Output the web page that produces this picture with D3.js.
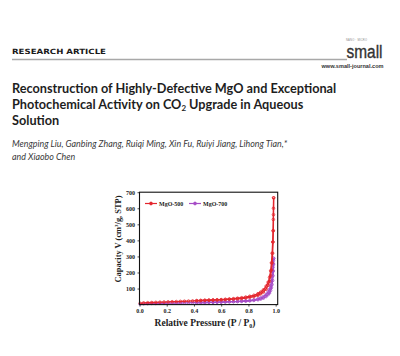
<!DOCTYPE html>
<html><head><meta charset="utf-8">
<script src="https://cdn.jsdelivr.net/npm/d3@7"></script>
<style>html,body{margin:0;padding:0;background:#fff;}svg{display:block;}</style>
</head><body>
<script>
// ---- data ----
const headerLabel = "RESEARCH ARTICLE";
const titleLines = ["Reconstruction of Highly-Defective MgO and Exceptional", "Photochemical Activity on CO|2| Upgrade in Aqueous", "Solution"];
const authorLines = ["Mengping Liu, Ganbing Zhang, Ruiqi Ming, Xin Fu, Ruiyi Jiang, Lihong Tian,*", "and Xiaobo Chen"];
const seriesNames = ["MgO-500", "MgO-700"];
const xTicks = [0.0, 0.2, 0.4, 0.6, 0.8, 1.0];
const yTicks = [100, 200, 300, 400, 500, 600, 700];

const pAds = [0.005,0.03,0.06,0.09,0.12,0.15,0.18,0.21,0.24,0.27,0.30,0.33,0.36,0.39,0.42,0.45,0.48,0.51,0.54,0.57,0.60,0.63,0.66,0.69,0.72,0.75,0.78,0.81,0.84,0.87,0.89,0.91,0.93,0.945,0.955,0.963,0.969,0.974,0.978,0.981,0.983,0.984,0.985];
const pDes = [0.985,0.984,0.983,0.981,0.978,0.974,0.969,0.963,0.955,0.945,0.93,0.91,0.89,0.87,0.84,0.81,0.78,0.75,0.72,0.69,0.66,0.63,0.60,0.57,0.54,0.51,0.48,0.45,0.42];
const v500Ads = [8,11,12,13,14,15,16,17,18,19,20,21,22,23,24,25,26,27,28,29,30,31,33,34,36,38,41,45,50,58,66,78,96,120,145,180,215,260,320,390,460,560,665];
const v500Des = [665,600,530,460,390,320,260,210,170,140,115,92,78,68,58,52,47,43,40,37,35,33,31,30,29,28,27,26,25];
const v700Ads = [3,5,6,7,7,8,8,9,9,10,10,11,11,12,12,13,13,14,14,15,15,16,17,18,19,20,21,23,26,30,34,40,50,62,72,88,105,125,150,180,210,250,288];
const v700Des = [288,275,255,232,205,175,145,118,95,80,64,50,42,36,30,26,24,22,20,19,18,17,16,15,14,14,13,13,12];

const colors = ["#e3262d", "#a64cc6"];

// ---- drawing ----
const W = 400, H = 356;
const svg = d3.select("body").append("svg").attr("width", W).attr("height", H);
svg.append("rect").attr("width", W).attr("height", H).attr("fill", "#fff");

// header
svg.append("text").attr("x", 12).attr("y", 53.5)
  .attr("font-family", "DejaVu Sans").attr("font-weight", "bold").attr("font-size", 7.2)
  .attr("textLength", 94).attr("lengthAdjust", "spacingAndGlyphs")
  .attr("fill", "#1a1a1a").text(headerLabel);
svg.append("line").attr("x1", 12).attr("x2", 347).attr("y1", 59.5).attr("y2", 59.5)
  .attr("stroke", "#a8a8a8").attr("stroke-width", 1.6);
svg.append("text").attr("x", 346.5).attr("y", 57.5)
  .attr("font-family", "Liberation Sans Narrow, Liberation Sans").attr("font-size", 18)
  .attr("textLength", 36).attr("lengthAdjust", "spacingAndGlyphs")
  .attr("stroke", "#333").attr("stroke-width", 0.35)
  .attr("fill", "#333").text("small");
svg.append("text").attr("x", 346).attr("y", 40.5)
  .attr("font-family", "Liberation Sans").attr("font-size", 2.6)
  .attr("textLength", 21).attr("fill", "#888").text("NANO · MICRO");
svg.append("text").attr("x", 321.5).attr("y", 68)
  .attr("font-family", "Liberation Sans").attr("font-weight", "bold").attr("font-size", 5.6)
  .attr("textLength", 62).attr("lengthAdjust", "spacingAndGlyphs")
  .attr("fill", "#333").text("www.small-journal.com");

// title
const titleG = svg.append("g").attr("font-family", "Lato").attr("font-weight", "bold")
  .attr("font-size", 12.7).attr("fill", "#1e1e1e");
titleLines.forEach((ln, i) => {
  const t = titleG.append("text").attr("x", 12).attr("y", 92.5 + i * 16);
  ln.split("|").forEach((part, j) => {
    if (j % 2 === 1) t.append("tspan").attr("font-size", 8).attr("dy", 2.5).text(part);
    else if (j > 0) t.append("tspan").attr("dy", -2.5).text(part);
    else t.append("tspan").text(part);
  });
});
// authors
authorLines.forEach((ln, i) => {
  svg.append("text").attr("x", 12).attr("y", 147 + i * 12.5)
    .attr("font-family", "Lato").attr("font-style", "italic").attr("font-size", 8.9)
    .attr("fill", "#3a3a3a").text(ln);
});

// chart
const x = d3.scaleLinear().domain([0, 1.015]).range([139.5, 277.7]);
const y = d3.scaleLinear().domain([0, 700]).range([304.6, 192.2]);
const serif = "Liberation Serif, Times New Roman, serif";

const gx = svg.append("g").attr("transform", `translate(0,${y(0)})`)
  .call(d3.axisBottom(x).tickValues(xTicks).tickFormat(d3.format(".1f")).tickSize(2).tickPadding(2.5));
const gy = svg.append("g").attr("transform", `translate(${x(0)},0)`)
  .call(d3.axisLeft(y).tickValues(yTicks).tickFormat(d3.format("d")).tickSize(2).tickPadding(2.5));
[gx, gy].forEach(g => {
  g.select(".domain").remove();
  g.selectAll("text").attr("font-family", serif).attr("font-weight", "bold").attr("font-size", 6).attr("fill", "#222");
  g.selectAll("line").attr("stroke", "#222").attr("stroke-width", 0.8);
});

const series = [
  {name: seriesNames[0], color: colors[0], ads: v500Ads, des: v500Des},
  {name: seriesNames[1], color: colors[1], ads: v700Ads, des: v700Des}
];
const line = d3.line().x(d => x(d[0])).y(d => y(d[1]));
// draw 700 first, 500 on top
[series[1], series[0]].forEach(s => {
  const branches = [pAds.map((p, i) => [p, s.ads[i]]), pDes.map((p, i) => [p, s.des[i]])];
  branches.forEach(b => {
    svg.append("path").datum(b).attr("d", line).attr("fill", "none")
      .attr("stroke", s.color).attr("stroke-width", 1.3);
    svg.append("g").selectAll("circle").data(b).join("circle")
      .attr("cx", d => x(d[0])).attr("cy", d => y(d[1])).attr("r", 1.3)
      .attr("fill", "none").attr("stroke", s.color).attr("stroke-width", 0.8);
  });
});

// frame
svg.append("rect").attr("x", x(0)).attr("y", y(700)).attr("width", x(1.015) - x(0)).attr("height", y(0) - y(700))
  .attr("fill", "none").attr("stroke", "#111").attr("stroke-width", 1.1);

// legend
const legX = [145, 189];
series.forEach((s, i) => {
  const lx = legX[i], ly = 203.5;
  svg.append("line").attr("x1", lx).attr("x2", lx + 12).attr("y1", ly).attr("y2", ly)
    .attr("stroke", s.color).attr("stroke-width", 1.2);
  svg.append("circle").attr("cx", lx + 6).attr("cy", ly).attr("r", 1.4)
    .attr("fill", s.color).attr("stroke", s.color);
  svg.append("text").attr("x", lx + 14).attr("y", ly + 2)
    .attr("font-family", serif).attr("font-weight", "bold").attr("font-size", 6)
    .attr("fill", "#222").text(s.name);
});

// axis labels
const xl = svg.append("text").attr("x", 205).attr("y", 325.5).attr("text-anchor", "middle")
  .attr("font-family", serif).attr("font-weight", "bold").attr("font-size", 9.5).attr("fill", "#222");
xl.append("tspan").text("Relative Pressure (P / P");
xl.append("tspan").attr("font-size", 6).attr("dy", 2).text("0");
xl.append("tspan").attr("dy", -2).text(")");

const yl = svg.append("text").attr("transform", "translate(121,239) rotate(-90)").attr("text-anchor", "middle")
  .attr("font-family", serif).attr("font-weight", "bold").attr("font-size", 8.4).attr("fill", "#222");
yl.append("tspan").text("Capacity V (cm");
yl.append("tspan").attr("font-size", 5).attr("dy", -3).text("3");
yl.append("tspan").attr("dy", 3).text("/g, STP)");
</script>
</body></html>
